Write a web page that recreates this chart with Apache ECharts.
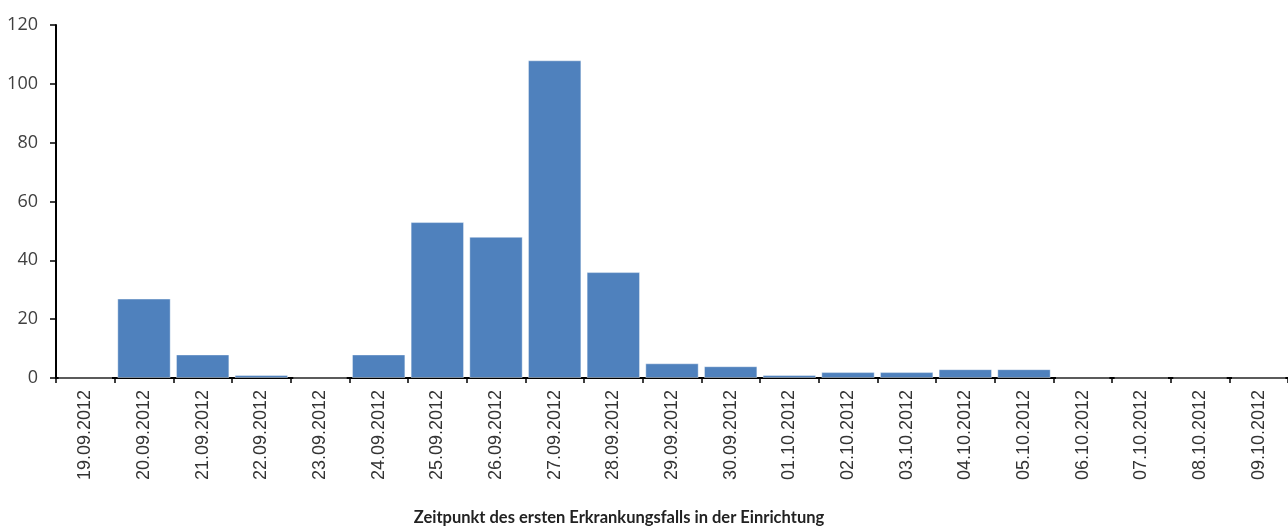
<!DOCTYPE html>
<html>
<head>
<meta charset="utf-8">
<script src="https://cdn.jsdelivr.net/npm/echarts@6/dist/echarts.min.js"></script>
<style>
  html, body { margin: 0; padding: 0; background: #fff; }
  #chart { width: 1288px; height: 526px; }
</style>
</head>
<body>
<div id="chart"></div>
<script>
// Erkrankungsfälle je Tag
const dates = [
  '19.09.2012', '20.09.2012', '21.09.2012', '22.09.2012', '23.09.2012',
  '24.09.2012', '25.09.2012', '26.09.2012', '27.09.2012', '28.09.2012',
  '29.09.2012', '30.09.2012', '01.10.2012', '02.10.2012', '03.10.2012',
  '04.10.2012', '05.10.2012', '06.10.2012', '07.10.2012', '08.10.2012',
  '09.10.2012'
]
const cases = [0, 27, 8, 1, 0, 8, 53, 48, 108, 36, 5, 4, 1, 2, 2, 3, 3, 0, 0, 0, 0]
const axisTitle = 'Zeitpunkt des ersten Erkrankungsfalls in der Einrichtung'

const chart = echarts.init(document.getElementById('chart'))

chart.setOption({
  animation: false,
  title: {
    text: axisTitle,
    left: 614,
    top: 504,
    textAlign: 'center',
    textStyle: {
      fontFamily: 'Lato',
      fontWeight: 'bold',
      fontSize: 16.5,
      color: '#222'
    }
  },
  grid: {
    left: 56,
    right: 0,
    top: 25,
    bottom: 148
  },
  xAxis: {
    type: 'category',
    data: dates,
    axisLine: { lineStyle: { color: '#000', width: 2 } },
    axisTick: { show: true, length: 5, lineStyle: { color: '#000', width: 1.5 } },
    axisLabel: {
      rotate: 90,
      margin: 12,
      fontFamily: 'Liberation Sans',
      fontSize: 18,
      color: '#333'
    }
  },
  yAxis: {
    type: 'value',
    min: 0,
    max: 120,
    interval: 20,
    axisLine: { show: true, lineStyle: { color: '#000', width: 2 } },
    axisTick: { show: true, length: 6, lineStyle: { color: '#000', width: 1.5 } },
    splitLine: { show: false },
    axisLabel: {
      margin: 18,
      fontFamily: 'Open Sans',
      fontSize: 18,
      color: '#404040'
    }
  },
  series: [
    {
      type: 'bar',
      data: cases,
      barCategoryGap: '9%',
      itemStyle: {
        color: '#4f81bd',
        borderColor: 'rgba(255,255,255,0.4)',
        borderWidth: 1
      }
    }
  ]
})
</script>
</body>
</html>
